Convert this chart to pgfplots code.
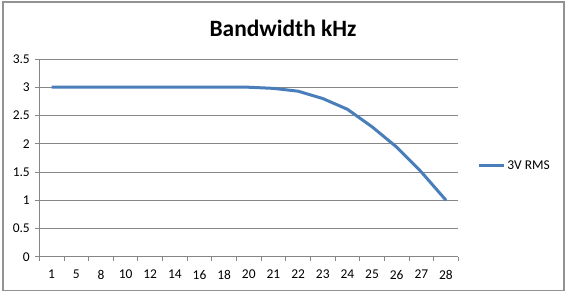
\documentclass[border=0pt]{standalone}
\usepackage{pgfplots}
\pgfplotsset{compat=1.18}
\usepackage{fontspec}
\setmainfont{Carlito}
\definecolor{serblue}{HTML}{4A7EBB}
\definecolor{gridgray}{HTML}{868686}
\begin{document}
\begin{tikzpicture}[x=1bp,y=1bp]
\useasboundingbox (0,0) rectangle (566,293);
\draw[gridgray!90, line width=1.2bp] (3,2.5) rectangle (564,291);
\node[anchor=base, font=\fontsize{23.5}{28}\selectfont\bfseries] at (283,257) {Bandwidth kHz};
\begin{axis}[
  at={(39.3bp,36.3bp)}, anchor=south west,
  scale only axis, width=419bp, height=197.7bp,
  xmin=0, xmax=17, ymin=0, ymax=3.5,
  axis x line*=bottom, axis y line*=left,
  axis line style={gridgray, line width=0.8bp, -},
  xtick={0.5,1.5,...,16.5},
  xticklabels={1,5,8,10,12,14,16,18,20,21,22,23,24,25,26,27,28},
  minor xtick={0,1,...,17},
  major x tick style={draw=none},
  minor x tick style={gridgray, line width=0.8bp},
  minor tick length=4bp,
  ytick={0,0.5,...,3.5},
  yticklabels={0,0.5,1,1.5,2,2.5,3,3.5},
  y tick style={gridgray, line width=0.8bp},
  major tick length=4bp,
  tick align=outside,
  ymajorgrids, grid style={gridgray, line width=0.8bp},
  ticklabel style={font=\fontsize{13.5}{15}\selectfont},
  xticklabel style={yshift=-6bp},
  yticklabel style={xshift=-2bp},
  clip=false,
  legend style={at={(1.045,0.459)}, anchor=west, draw=none, fill=none,
    font=\fontsize{13.5}{15}\selectfont, inner sep=0pt,
    legend cell align=left},
  legend image code/.code={\draw[#1, line width=3bp] (0bp,0bp) -- (25bp,0bp);},
]
\addplot[serblue, line width=3bp, line join=round] coordinates {
(0.5,3.0) (1.5,3.0) (2.5,3.0) (3.5,3.0) (4.5,3.0) (5.5,3.0) (6.5,3.0) (7.5,3.0)
(8.5,3.0) (9.5,2.98) (10.5,2.93) (11.5,2.8) (12.5,2.61) (13.5,2.3) (14.5,1.94)
(15.5,1.5) (16.5,1.0)};
\addlegendentry{3V RMS}
\end{axis}
\end{tikzpicture}
\end{document}
